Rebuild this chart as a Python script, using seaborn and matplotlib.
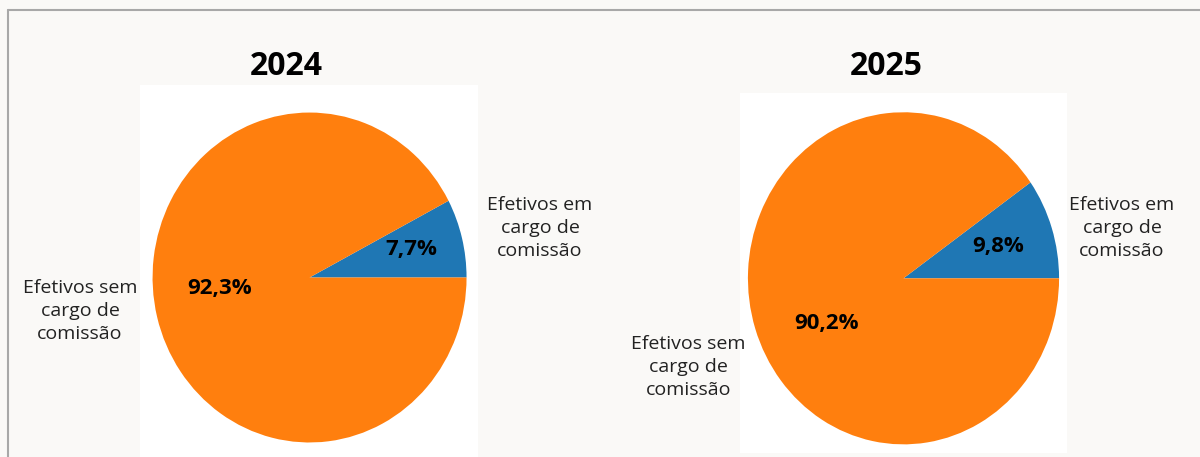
import seaborn as sns
import matplotlib.pyplot as plt
from matplotlib.lines import Line2D

sns.set_theme(style="white")
plt.rcParams['font.family'] = ['Open Sans', 'DejaVu Sans']

categorias = ['Efetivos em\ncargo de\ncomissão', 'Efetivos sem\ncargo de\ncomissão']
anos = ['2024', '2025']
valores_2024 = [7.7, 92.3]
valores_2025 = [9.8, 90.2]
pal = sns.color_palette('tab10', 2)

def fmt(p):
    return ('%.1f%%' % p).replace('.', ',')

fig = plt.figure(figsize=(12, 4.57), dpi=100, facecolor='#faf9f7')
W, H = 1200, 457

def make_ax(x0, y0, x1, y1):
    return fig.add_axes([x0 / W, 1 - y1 / H, (x1 - x0) / W, (y1 - y0) / H])

ax1 = make_ax(140, 85, 478, 457)
ax2 = make_ax(740, 93, 1067, 453)

# (ax, ano, valores, xlim, ylim, label positions, pct positions, title pos)
setups = [
    (ax1, anos[0], valores_2024, (-1.080, 1.073), (-1.088, 1.167),
     [(1.468, 0.30), (-1.462, -0.203)], [(0.646, 0.167), (-0.576, -0.064)], (-0.15, 1.28)),
    (ax2, anos[1], valores_2025, (-1.051, 1.051), (-1.052, 1.116),
     [(1.405, 0.301), (-1.381, -0.533)], [(0.607, 0.193), (-0.498, -0.273)], (-0.113, 1.277)),
]

for ax, ano, vals, xl, yl, lpos, ppos, tpos in setups:
    wedges, texts, autotexts = ax.pie(vals, labels=categorias, colors=pal, autopct=fmt,
                                      startangle=0, counterclock=True,
                                      wedgeprops={'linewidth': 0, 'edgecolor': 'none'})
    ax.set_aspect('auto')
    ax.set_xlim(*xl)
    ax.set_ylim(*yl)
    ax.set_frame_on(True)
    ax.set_facecolor('white')
    for s in ax.spines.values():
        s.set_visible(False)
    for t, p in zip(texts, lpos):
        t.set_position(p)
        t.set_ha('center')
        t.set_va('center')
        t.set_multialignment('center')
        t.set_fontsize(14)
        t.set_color('#222222')
        t.set_linespacing(1.35)
        t.set_clip_on(False)
    for t, p in zip(autotexts, ppos):
        t.set_position(p)
        t.set_ha('center')
        t.set_va('center')
        t.set_fontsize(16)
        t.set_fontweight('bold')
        t.set_color('black')
    ax.text(tpos[0], tpos[1], ano, ha='center', va='center', fontsize=23,
            fontweight='bold', color='black', clip_on=False)

# moldura cinza (topo e esquerda)
fig.add_artist(Line2D([8 / W, 1], [1 - 10 / H, 1 - 10 / H], color='#a8a8a8', lw=1.5))
fig.add_artist(Line2D([8 / W, 8 / W], [0, 1 - 10 / H], color='#a8a8a8', lw=1.5))

fig.savefig('out.png', dpi=100, facecolor=fig.get_facecolor())
